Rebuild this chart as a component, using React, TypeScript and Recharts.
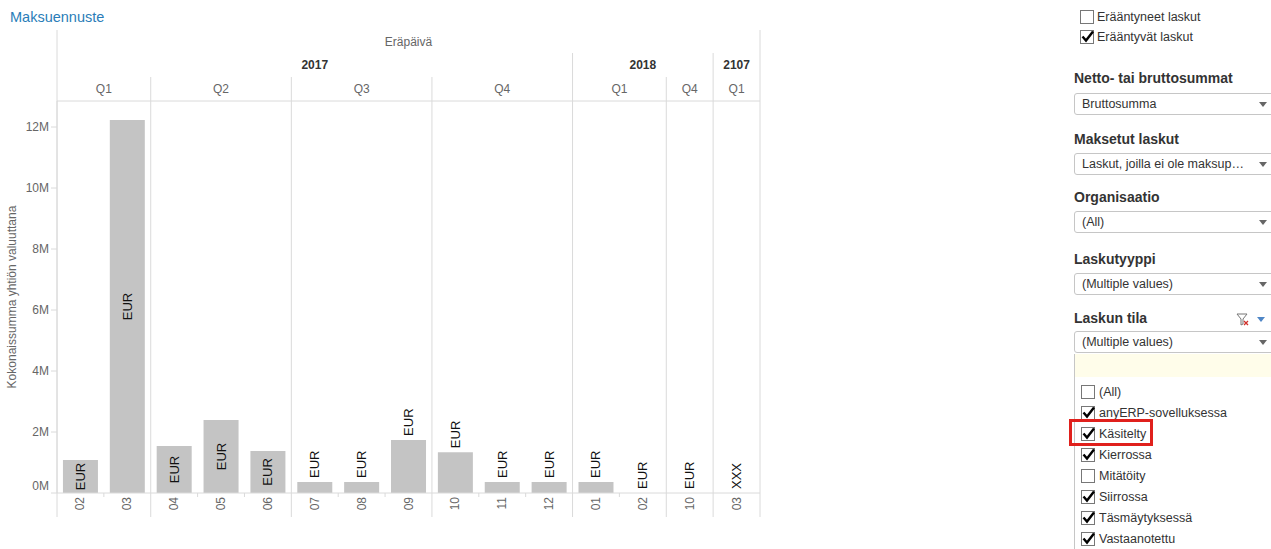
import React from "react";
import { ComposedChart, Bar, Scatter, XAxis, YAxis } from "recharts";

// Eräpäivä: year / quarter / month per column
const years = ["2017", "2017", "2017", "2017", "2017", "2017", "2017", "2017", "2017", "2017", "2017", "2018", "2018", "2018", "2107"];
const quarters = ["Q1", "Q1", "Q2", "Q2", "Q2", "Q3", "Q3", "Q3", "Q4", "Q4", "Q4", "Q1", "Q1", "Q4", "Q1"];
const months = ["02", "03", "04", "05", "06", "07", "08", "09", "10", "11", "12", "01", "02", "10", "03"];
// Kokonaissumma in millions
const amounts = [1.08, 12.23, 1.54, 2.39, 1.38, 0.36, 0.36, 1.74, 1.34, 0.36, 0.36, 0.36, 0, 0, 0];
const currencies = ["EUR", "EUR", "EUR", "EUR", "EUR", "EUR", "EUR", "EUR", "EUR", "EUR", "EUR", "EUR", "EUR", "EUR", "XXX"];
const yTicks = [0, 2, 4, 6, 8, 10, 12];

const statusItems = ["(All)", "anyERP-sovelluksessa", "Käsitelty", "Kierrossa", "Mitätöity", "Siirrossa", "Täsmäytyksessä", "Vastaanotettu"];
const statusChecked = [false, true, true, true, false, true, true, true];

const data = months.map((m, i) => ({
  key: `${years[i]}-${m}`,
  month: m,
  amount: amounts[i],
  cur: currencies[i],
}));

// Tableau put these labels on top of the bar although they would fit
const labelsOnTop = ["2017-09", "2017-10"];

const FONT = "Arial, 'Liberation Sans', sans-serif";
const GRID = "#dadada";
const AXIS_TEXT = "#666";
const CHART_W = 770;
const CHART_H = 549;
const HEAD_TOP = 30;
const PLOT_TOP = 101;
const PLOT_BOTTOM = 493;
const PLOT_LEFT = 57;
const PLOT_RIGHT = 760;
const LINE_BOTTOM = 517;
const BAND = (PLOT_RIGHT - PLOT_LEFT) / months.length;

const yearStart = (i: number) => i === 0 || years[i] !== years[i - 1];
const quarterStart = (i: number) => yearStart(i) || quarters[i] !== quarters[i - 1];
const runLength = (i: number, same: (a: number, b: number) => boolean) => {
  let n = 1;
  while (i + n < months.length && same(i, i + n)) n++;
  return n;
};

// header rows (Eräpäivä / year / quarter) and the column separators
const HeaderTick = (props: any) => {
  const i = data.findIndex((d) => d.key === props.payload.value);
  if (i < 0) return null;
  const x0 = props.x - BAND / 2;
  const els: React.ReactNode[] = [];
  if (i === 0) {
    els.push(
      <text key="t" x={(PLOT_LEFT + PLOT_RIGHT) / 2} y={42} textAnchor="middle" dominantBaseline="central" fontSize={12} fill={AXIS_TEXT}>
        Eräpäivä
      </text>
    );
  }
  if (yearStart(i)) {
    const len = runLength(i, (a, b) => years[a] === years[b]);
    els.push(<line key="yl" x1={x0} x2={x0} y1={i === 0 ? HEAD_TOP : 53} y2={LINE_BOTTOM} stroke={GRID} />);
    els.push(
      <text key="y" x={x0 + (len * BAND) / 2} y={65} textAnchor="middle" dominantBaseline="central" fontSize={12} fontWeight="bold" fill="#333">
        {years[i]}
      </text>
    );
  } else if (quarterStart(i)) {
    els.push(<line key="ql" x1={x0} x2={x0} y1={77} y2={LINE_BOTTOM} stroke={GRID} />);
  } else {
    els.push(<line key="tk" x1={x0} x2={x0} y1={PLOT_BOTTOM} y2={PLOT_BOTTOM + 4} stroke={GRID} />);
  }
  if (quarterStart(i)) {
    const len = runLength(i, (a, b) => years[a] === years[b] && quarters[a] === quarters[b]);
    els.push(
      <text key="q" x={x0 + (len * BAND) / 2} y={89} textAnchor="middle" dominantBaseline="central" fontSize={12} fill={AXIS_TEXT}>
        {quarters[i]}
      </text>
    );
  }
  if (i === months.length - 1) {
    const x1 = props.x + BAND / 2;
    els.push(<line key="r" x1={x1} x2={x1} y1={HEAD_TOP} y2={LINE_BOTTOM} stroke={GRID} />);
  }
  return <g>{els}</g>;
};

const MonthTick = (props: any) => {
  const { x, payload } = props;
  const d = data.find((e) => e.key === payload.value);
  const y = PLOT_BOTTOM + 4;
  return (
    <text x={x} y={y} transform={`rotate(-90, ${x}, ${y})`} textAnchor="end" dominantBaseline="central" fontSize={12} fill={AXIS_TEXT}>
      {d ? d.month : ""}
    </text>
  );
};

const ValueTick = (props: any) => {
  const { x, y, payload } = props;
  return (
    <text x={x} y={payload.value === 0 ? y - 7 : y} textAnchor="end" dominantBaseline="central" fontSize={12} fill={AXIS_TEXT}>
      {`${payload.value}M`}
    </text>
  );
};

// currency label: inside the bar when it fits, otherwise on top of it
const CurrencyMark = (props: any) => {
  const { cx, cy, payload } = props;
  if (cx == null || cy == null) return null;
  const h = PLOT_BOTTOM - cy;
  const inside = h >= 30 && !labelsOnTop.includes(payload.key);
  const y = inside ? (cy + PLOT_BOTTOM) / 2 : cy - 4;
  return (
    <text
      x={cx}
      y={y}
      transform={`rotate(-90, ${cx}, ${y})`}
      textAnchor={inside ? "middle" : "start"}
      dominantBaseline="central"
      fontSize={13}
      fill="#111"
    >
      {payload.cur}
    </text>
  );
};

const Check = ({ on, left, top }: { on: boolean; left: number; top: number }) => (
  <div style={{ position: "absolute", left, top, width: 12, height: 12, border: "1px solid #777", background: "#fff" }}>
    {on && (
      <svg width={15} height={14} style={{ position: "absolute", left: -1, top: -2 }}>
        <path d="M2.5 7.5 L6 11.5 L13 2.5" fill="none" stroke="#000" strokeWidth={2.4} />
      </svg>
    )}
  </div>
);

const Dropdown = ({ top, text }: { top: number; text: string }) => (
  <div
    style={{
      position: "absolute",
      left: 1074,
      top,
      width: 194,
      height: 20,
      border: "1px solid #c6c6c6",
      borderRadius: 3,
      background: "#fff",
      fontSize: 12.5,
      color: "#333",
      lineHeight: "20px",
      paddingLeft: 7,
      boxSizing: "content-box",
    }}
  >
    {text}
    <svg width={8} height={5} style={{ position: "absolute", right: 9, top: 8 }}>
      <path d="M0 0 L8 0 L4 5 Z" fill="#666" />
    </svg>
  </div>
);

const Heading = ({ top, text }: { top: number; text: string }) => (
  <div style={{ position: "absolute", left: 1074, top, fontSize: 14, fontWeight: "bold", color: "#333", lineHeight: "16px" }}>{text}</div>
);

export default function App() {
  return (
    <div style={{ position: "absolute", left: 0, top: 0, width: 1271, height: 549, background: "#fff", fontFamily: FONT, overflow: "hidden" }}>
      <div style={{ position: "absolute", left: 10, top: 8, fontSize: 14.5, color: "#2a7db8", lineHeight: "18px" }}>Maksuennuste</div>

      <div style={{ position: "absolute", left: 0, top: 0 }}>
        <ComposedChart
          width={CHART_W}
          height={CHART_H}
          data={data}
          margin={{ top: HEAD_TOP, right: CHART_W - PLOT_RIGHT, bottom: 0, left: 0 }}
          barCategoryGap="12.7%"
          style={{ fontFamily: FONT }}
        >
          <XAxis
            xAxisId="head"
            dataKey="key"
            orientation="top"
            height={PLOT_TOP - HEAD_TOP}
            interval={0}
            tickLine={false}
            axisLine={{ stroke: GRID }}
            tick={<HeaderTick />}
          />
          <XAxis
            xAxisId="main"
            dataKey="key"
            height={CHART_H - PLOT_BOTTOM}
            interval={0}
            tickLine={false}
            axisLine={{ stroke: GRID }}
            tick={<MonthTick />}
          />
          <YAxis
            width={PLOT_LEFT}
            domain={[0, (PLOT_BOTTOM - PLOT_TOP) / 30.5]}
            ticks={yTicks}
            tickSize={6}
            tickMargin={2}
            tickLine={{ stroke: GRID }}
            axisLine={{ stroke: GRID }}
            tick={<ValueTick />}
            label={{
              value: "Kokonaissumma yhtiön valuuttana",
              content: () => (
                <text
                  x={12}
                  y={(PLOT_TOP + PLOT_BOTTOM) / 2}
                  transform={`rotate(-90, 12, ${(PLOT_TOP + PLOT_BOTTOM) / 2})`}
                  textAnchor="middle"
                  dominantBaseline="central"
                  fontSize={12}
                  fill={AXIS_TEXT}
                >
                  Kokonaissumma yhtiön valuuttana
                </text>
              ),
            }}
          />
          <Bar xAxisId="main" dataKey="amount" fill="#c4c4c4" isAnimationActive={false} />
          <Scatter xAxisId="main" dataKey="amount" shape={<CurrencyMark />} isAnimationActive={false} />
        </ComposedChart>
      </div>

      {/* filter panel */}
      <div style={{ position: "absolute", left: 0, top: 0, width: 1271, height: 549, fontSize: 12.5, color: "#333" }}>
        <Check on={false} left={1080} top={10} />
        <div style={{ position: "absolute", left: 1097, top: 9, lineHeight: "16px" }}>Erääntyneet laskut</div>
        <Check on={true} left={1080} top={30} />
        <div style={{ position: "absolute", left: 1097, top: 29, lineHeight: "16px" }}>Erääntyvät laskut</div>

        <Heading top={70} text="Netto- tai bruttosummat" />
        <Dropdown top={93} text="Bruttosumma" />
        <Heading top={131} text="Maksetut laskut" />
        <Dropdown top={153} text="Laskut, joilla ei ole maksup…" />
        <Heading top={189} text="Organisaatio" />
        <Dropdown top={211} text="(All)" />
        <Heading top={251} text="Laskutyyppi" />
        <Dropdown top={273} text="(Multiple values)" />
        <Heading top={310} text="Laskun tila" />
        <svg width={30} height={14} style={{ position: "absolute", left: 1236, top: 313 }}>
          <path d="M1 1 L11 1 L7 6 L7 11 L5 12 L5 6 Z" fill="none" stroke="#777" strokeWidth={1} />
          <path d="M8 8 L12 12 M12 8 L8 12" stroke="#d0302a" strokeWidth={1.3} />
          <path d="M21 4 L29 4 L25 9 Z" fill="#4f86c6" />
        </svg>
        <Dropdown top={331} text="(Multiple values)" />
        <div style={{ position: "absolute", left: 1075, top: 354, width: 196, height: 23, background: "#fffdea" }} />
        <div style={{ position: "absolute", left: 1074, top: 354, width: 1, height: 195, background: "#c6c6c6" }} />

        {statusItems.map((s, i) => (
          <React.Fragment key={s}>
            <Check on={statusChecked[i]} left={1081} top={385 + i * 21} />
            <div style={{ position: "absolute", left: 1099, top: 384 + i * 21, lineHeight: "16px" }}>{s}</div>
          </React.Fragment>
        ))}
        <div style={{ position: "absolute", left: 1069, top: 419, width: 78, height: 21, border: "3px solid #e0201c" }} />
      </div>
    </div>
  );
}
